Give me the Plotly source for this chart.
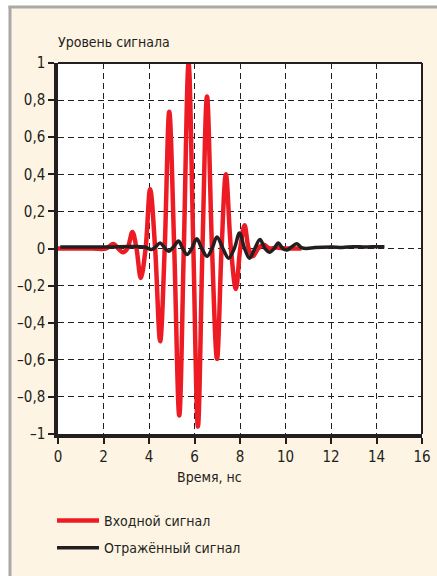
import plotly.graph_objects as go

# ---- data ----
input_t = [0.0, 1.5, 2.1, 2.44, 2.65, 2.85, 3.05, 3.27, 3.45, 3.64, 3.85, 4.05, 4.27,
           4.49, 4.69, 4.89, 5.11, 5.33, 5.53, 5.74, 5.95, 6.15, 6.35, 6.55, 6.77,
           6.99, 7.19, 7.38, 7.6, 7.82, 8.01, 8.2, 8.38, 8.56, 8.8, 9.04, 9.3, 9.6,
           10.0, 10.7]
input_v = [0.0, 0.0, 0.0, 0.024, 0.0, -0.02, 0.0, 0.089, 0.0, -0.159, 0.0, 0.32, 0.0,
           -0.50, 0.0, 0.737, 0.0, -0.90, 0.0, 1.0, 0.0, -0.96, 0.0, 0.82, 0.0,
           -0.595, 0.0, 0.40, 0.0, -0.218, 0.0, 0.125, 0.0, -0.042, 0.0, 0.02, 0.0, 0.005,
           0.0, 0.0]

refl_t = [0.1, 2.0, 3.8, 4.1, 4.3, 4.49, 4.68, 4.86, 5.08, 5.3, 5.48, 5.67, 5.88, 6.1,
          6.32, 6.55, 6.77, 6.99, 7.25, 7.5, 7.75, 7.98, 8.2, 8.42, 8.65, 8.88, 9.1,
          9.3, 9.5, 9.68, 9.88, 10.06, 10.28, 10.5, 10.7, 10.92, 11.3, 12.0, 12.5,
          13.0, 13.5, 14.0, 14.35]
refl_v = [0.008, 0.008, 0.008, -0.006, 0.01, 0.03, 0.005, -0.015, 0.01, 0.04, 0.0, -0.033,
          0.0, 0.052, 0.0, -0.042, 0.0, 0.062, 0.0, -0.052, 0.0, 0.083, 0.0, -0.052,
          0.0, 0.048, 0.0, -0.02, 0.0, 0.03, 0.0, -0.008, 0.01, 0.025, 0.005, 0.0,
          0.005, 0.008, 0.006, 0.01, 0.008, 0.01, 0.01]

x_tickvals = [0, 2, 4, 6, 8, 10, 12, 14, 16]
x_ticktext = ["0", "2", "4", "6", "8", "10", "12", "14", "16"]
y_tickvals = [1, 0.8, 0.6, 0.4, 0.2, 0, -0.2, -0.4, -0.6, -0.8, -1]
y_ticktext = ["1", "0,8", "0,6", "0,4", "0,2", "0", "–0,2", "–0,4", "–0,6", "–0,8", "–1"]

series_names = ["Входной сигнал", "Отражённый сигнал"]
y_title = "Уровень сигнала"
x_title = "Время, нс"

# ---- style ----
W, H = 437, 576
L, R, T, B = 58, 422, 63, 434   # plot area in pixels
FONT = "Liberation Sans Narrow, DejaVu Sans Condensed, Arial Narrow, sans-serif"
INK = "#231f20"
RED = "#ed1c24"
CREAM = "#fdf4e3"
FS = 14


def px(xp):
    return (xp - L) / (R - L)


def py(yp):
    return (B - yp) / (B - T)


fig = go.Figure()
fig.add_trace(go.Scatter(x=input_t, y=input_v, mode="lines", name=series_names[0],
                         line=dict(color=RED, width=4.5, shape="spline", smoothing=1.0),
                         legendgroup="a"))
fig.add_trace(go.Scatter(x=refl_t, y=refl_v, mode="lines", name=series_names[1],
                         line=dict(color=INK, width=3.5, shape="spline", smoothing=1.0),
                         legendgroup="b"))

axis_common = dict(showgrid=True, gridcolor=INK, gridwidth=1.2, griddash="6px,4px",
                   zeroline=False, showline=True, linecolor=INK, linewidth=3.5,
                   ticks="outside", tickcolor=INK, tickwidth=1.5, ticklen=6,
                   automargin=False,
                   tickfont=dict(family=FONT, size=FS + 1, color=INK))

fig.update_xaxes(range=[0, 16], tickvals=x_tickvals, ticktext=x_ticktext, **axis_common)
fig.update_yaxes(range=[-1, 1], tickvals=y_tickvals, ticktext=y_ticktext, **axis_common)

shapes = [
    # thin top and right frame of the plot area
    dict(type="line", xref="paper", yref="paper", x0=0, x1=1, y0=1, y1=1,
         line=dict(color=INK, width=2), layer="above"),
    dict(type="line", xref="paper", yref="paper", x0=1, x1=1, y0=0, y1=1,
         line=dict(color=INK, width=2), layer="above"),
    # white strips and grey border of the panel
    dict(type="rect", xref="paper", yref="paper", x0=px(0), x1=px(8.5), y0=py(W * 2), y1=py(0),
         fillcolor="white", line=dict(width=0), layer="above"),
    dict(type="rect", xref="paper", yref="paper", x0=px(0), x1=px(W), y0=py(5.5), y1=py(0),
         fillcolor="white", line=dict(width=0), layer="above"),
    dict(type="line", xref="paper", yref="paper", x0=px(10), x1=px(10), y0=py(H), y1=py(6),
         line=dict(color="#a9a9a9", width=3), layer="above"),
    dict(type="line", xref="paper", yref="paper", x0=px(8.5), x1=px(W), y0=py(7), y1=py(7),
         line=dict(color="#a9a9a9", width=3), layer="above"),
]

annotations = [
    dict(text=y_title, xref="paper", yref="paper", x=px(56), y=py(42),
         xanchor="left", yanchor="middle", showarrow=False,
         font=dict(family=FONT, size=FS, color=INK)),
    dict(text=x_title, xref="x", yref="paper", x=6.68, y=py(477),
         xanchor="center", yanchor="middle", showarrow=False,
         font=dict(family=FONT, size=FS, color=INK)),
]

fig.update_layout(
    width=W, height=H,
    margin=dict(l=L, r=W - R, t=T, b=H - B, pad=0, autoexpand=False),
    paper_bgcolor=CREAM, plot_bgcolor="white",
    showlegend=True,
    legend=dict(xref="container", yref="container", x=52 / W, y=1 - 505 / H,
                xanchor="left", yanchor="top",
                bgcolor="rgba(0,0,0,0)", borderwidth=0, itemwidth=42,
                tracegroupgap=6,
                font=dict(family=FONT, size=FS, color=INK)),
    shapes=shapes, annotations=annotations,
)

fig.write_html("out.html", config={"displayModeBar": False},
               post_script="document.body.style.margin='0px';")
